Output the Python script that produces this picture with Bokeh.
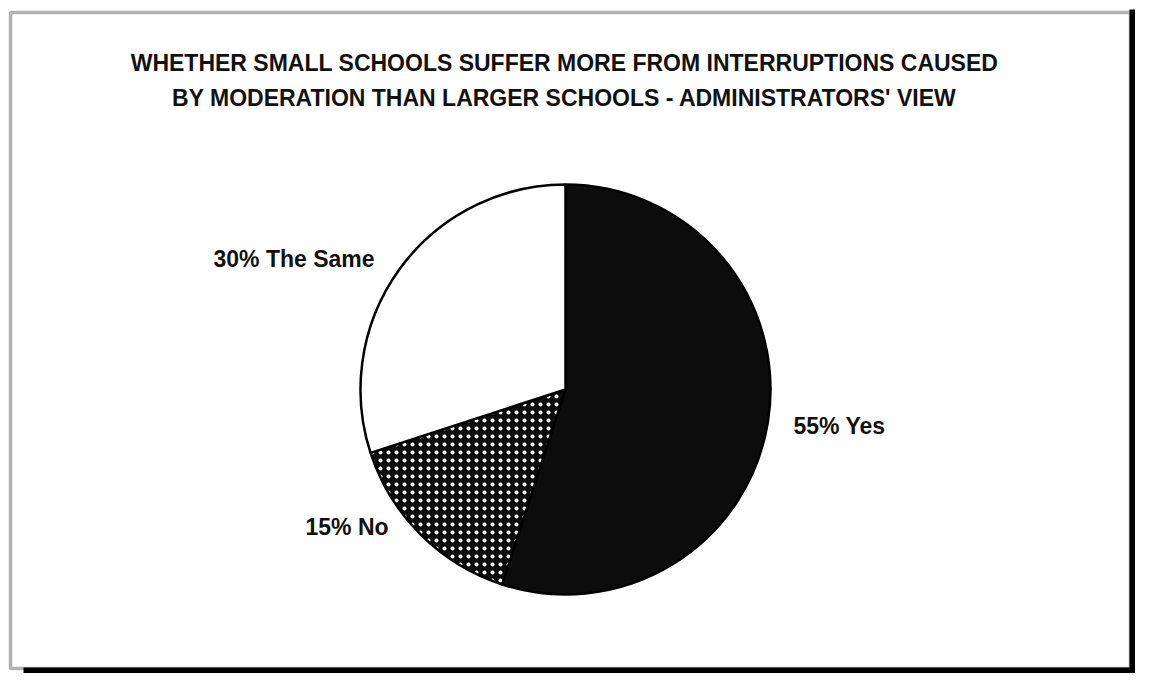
import numpy as np
from bokeh.plotting import figure
from bokeh.models import Label, BoxAnnotation, ColumnDataSource, Range1d
from bokeh.embed import file_html
from bokeh.resources import INLINE

# ---- data ----
categories = ["Yes", "No", "The Same"]
percents = [55, 15, 30]
title_lines = [
    "WHETHER SMALL SCHOOLS SUFFER MORE FROM INTERRUPTIONS CAUSED",
    "BY MODERATION THAN LARGER SCHOOLS - ADMINISTRATORS' VIEW",
]

# ---- styles ----
fills = ["#0c0c0c", "#0c0c0c", "#ffffff"]
hatches = [" ", "dot", " "]
FONT = "Liberation Sans"

W, H = 1135, 673
p = figure(width=W, height=H, output_backend="svg", toolbar_location=None,
           x_range=Range1d(0, W), y_range=Range1d(0, H),
           min_border=0, outline_line_color=None)
p.axis.visible = False
p.grid.visible = False
p.background_fill_color = "white"
p.border_fill_color = "white"

def sy(y):
    # screen y -> data y
    return H - y

# scanner dark strips and frame
p.add_layout(BoxAnnotation(left=1129, right=1140, bottom=sy(700), top=sy(9),
                           fill_color="black", fill_alpha=1, line_color=None))
p.add_layout(BoxAnnotation(left=23, right=1140, bottom=sy(700), top=sy(667),
                           fill_color="black", fill_alpha=1, line_color=None))
p.add_layout(BoxAnnotation(left=10, right=1130, bottom=sy(668), top=sy(12),
                           fill_alpha=0, line_color="black", line_width=3.5))

# pie
cx, cy, r = 565, sy(389), 205
frac = np.array(percents, dtype=float) / sum(percents)
cum = np.concatenate([[0], np.cumsum(frac)])
start = np.pi / 2 - cum[:-1] * 2 * np.pi
end = np.pi / 2 - cum[1:] * 2 * np.pi
src = ColumnDataSource(dict(cat=categories, start=start, end=end,
                            fill=fills, hatch=hatches))
p.wedge(x=cx, y=cy, radius=r, start_angle="start", end_angle="end",
        direction="clock", source=src, fill_color="fill",
        hatch_pattern="hatch", hatch_color="white", hatch_scale=8, hatch_weight=3,
        line_color="black", line_width=2.5)

# title
for i, t in enumerate(title_lines):
    p.add_layout(Label(x=564, y=sy(62 + 35 * i), text=t, text_align="center",
                       text_baseline="middle", text_font=FONT, text_font_size="23px",
                       text_font_style="bold", text_color="#111111"))

# slice labels
label_pos = {"Yes": (793, 425, "left"), "No": (305, 526, "left"),
             "The Same": (213, 258, "left")}
for c, v in zip(categories, percents):
    x, y, al = label_pos[c]
    p.add_layout(Label(x=x, y=sy(y), text=f"{v}% {c}", text_align=al,
                       text_baseline="middle", text_font=FONT, text_font_size="23px",
                       text_font_style="bold", text_color="#111111"))

open("out.html", "w").write(file_html(p, INLINE))
